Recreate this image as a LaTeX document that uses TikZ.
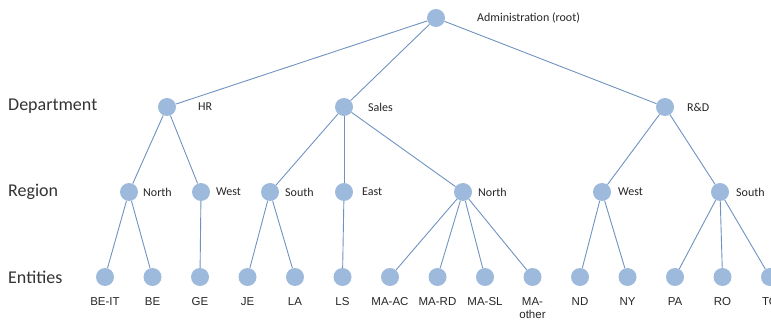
\documentclass[tikz,border=0pt]{standalone}
\usepackage{fontspec}
\setmainfont{Carlito}
\newfontfamily\entfont{Liberation Sans}
\usetikzlibrary{calc}
\begin{document}
\begin{tikzpicture}[x=1pt,y=-1pt,
  dot/.style={circle,fill=dotfill,draw=none,minimum size=18pt,inner sep=0pt},
  edge/.style={draw=edgecol,line width=0.9pt},
  lbl/.style={anchor=west,font=\fontsize{12}{13}\selectfont,text=black!85,inner sep=0pt},
  ent/.style={anchor=center,font=\entfont\fontsize{11.5}{13}\selectfont,text=black!85,inner sep=0pt,align=center},
  lvl/.style={anchor=west,font=\fontsize{18}{20}\selectfont,text=black!80,inner sep=0pt}]
\definecolor{dotfill}{HTML}{9DBADC}
\definecolor{edgecol}{HTML}{6F93C0}
\useasboundingbox (0,0) rectangle (771,320);
\clip (0,0) rectangle (771,320);
% level labels
\node[lvl] (Ldep) at (8,106) {Department};
\node[lvl] (Lreg) at (8,192) {Region};
\node[lvl] (Lent) at (8,277) {Entities};
% nodes
\node[dot] (root) at (436,18) {};
\node[dot] (hr) at (167,107) {};
\node[dot] (sales) at (344,107) {};
\node[dot] (rd) at (665,107) {};
\node[dot] (r1) at (129,192) {};
\node[dot] (r2) at (201,192) {};
\node[dot] (r3) at (270,192) {};
\node[dot] (r4) at (344,192) {};
\node[dot] (r5) at (463,192) {};
\node[dot] (r6) at (602,192) {};
\node[dot] (r7) at (720,192) {};
\foreach \i/\x in {1/105,2/152.5,3/200,4/247.5,5/295,6/342.5,7/390,8/437.5,9/485,10/532.5,11/580,12/627.5,13/675,14/722.5,15/770}
  \node[dot] (e\i) at (\x,277) {};
% edges
\foreach \a/\b in {root/hr,root/sales,root/rd,hr/r1,hr/r2,sales/r3,sales/r4,sales/r5,rd/r6,rd/r7,
  r1/e1,r1/e2,r2/e3,r3/e4,r3/e5,r4/e6,r5/e7,r5/e8,r5/e9,r5/e10,r6/e11,r6/e12,r7/e13,r7/e14,r7/e15}
  \draw[edge] (\a) -- (\b);
% labels
\node[lbl] (troot) at (477,18) {Administration (root)};
\node[lbl] (thr) at (198,107) {HR};
\node[lbl] (tsales) at (368,107) {Sales};
\node[lbl] (trd) at (687,107) {R\&D};
\node[lbl] (tr1) at (143,192) {North};
\node[lbl] (tr2) at (216,192) {West};
\node[lbl] (tr3) at (285,192) {South};
\node[lbl] (tr4) at (362,192) {East};
\node[lbl] (tr5) at (478,192) {North};
\node[lbl] (tr6) at (618,192) {West};
\node[lbl] (tr7) at (736,192) {South};
\foreach \i/\t in {1/BE-IT,2/BE,3/GE,4/JE,5/LA,6/LS,7/MA-AC,8/MA-RD,9/MA-SL,11/ND,12/NY,13/PA,14/RO,15/TO}
  \node[ent] (t\i) at ($(e\i)+(0,25)$) {\t};
\node[ent,anchor=north] (t10) at ($(e10)+(0,20)$) {MA-\\other};
\end{tikzpicture}
\end{document}
